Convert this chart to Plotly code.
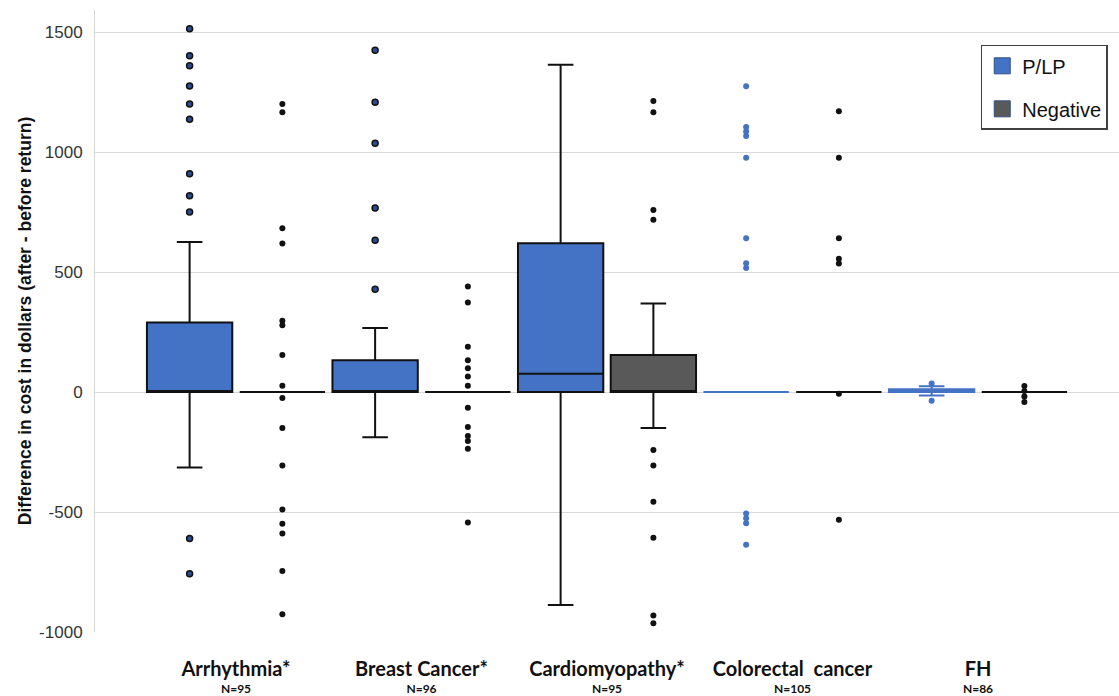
import plotly.graph_objects as go

categories = ["Arrhythmia", "Breast Cancer", "Cardiomyopathy", "Colorectal cancer", "FH"]
tick_names = ["Arrhythmia*", "Breast Cancer*", "Cardiomyopathy*", "Colorectal  cancer", "FH"]
n_counts = [95, 96, 95, 105, 86]

# P/LP statistics (per category)
plp_q1 = [0, 0, 0, 0, 0]
plp_median = [0, 0, 76, 0, 5]
plp_q3 = [290, 132, 620, 0, 12]
plp_lower = [-315, -188, -888, 0, -14]
plp_upper = [625, 267, 1364, 0, 24]
plp_outliers = [
    [1514, 1401, 1360, 1275, 1200, 1137, 910, 818, 750, -610, -757],
    [1424, 1208, 1037, 767, 633, 428],
    [],
    [1274, 1104, 1086, 1067, 976, 641, 537, 517, -506, -526, -547, -636],
    [36, -36],
]

# Negative statistics (per category)
neg_q1 = [0, 0, 0, 0, 0]
neg_median = [0, 0, 0, 0, 0]
neg_q3 = [0, 0, 154, 0, 0]
neg_lower = [0, 0, -150, 0, 0]
neg_upper = [0, 0, 369, 0, 0]
neg_outliers = [
    [1200, 1166, 683, 619, 297, 278, 154, 26, -25, -150, -306, -490, -549, -590, -746, -926],
    [440, 373, 189, 132, 99, 65, 26, -65, -146, -183, -204, -236, -544],
    [1213, 1166, 759, 718, -242, -306, -457, -607, -931, -964],
    [1170, 976, 641, 555, 536, -7, -532],
    [25, 4, -19, -42],
]

series_names = ["P/LP", "Negative"]

BLUE = "#4472C4"
GREY = "#595959"

fig = go.Figure()

def add_box(idx, group, fill, line_color, marker, q1, med, q3, lo, up, pts):
    fig.add_trace(go.Box(
        x=[categories[i] for i in idx],
        q1=[q1[i] for i in idx],
        median=[med[i] for i in idx],
        q3=[q3[i] for i in idx],
        lowerfence=[lo[i] for i in idx],
        upperfence=[up[i] for i in idx],
        y=[pts[i] for i in idx],
        boxpoints="all", jitter=0, pointpos=0,
        offsetgroup=group,
        showlegend=False,
        fillcolor=fill,
        line=dict(color=line_color, width=2),
        whiskerwidth=0.3,
        marker=marker,
        hoverinfo="skip",
    ))

add_box([0, 1, 2], "plp", BLUE, "#111111",
        dict(size=6, color="#2B4C90", line=dict(color="#111111", width=1.5)),
        plp_q1, plp_median, plp_q3, plp_lower, plp_upper, plp_outliers)
add_box([3, 4], "plp", BLUE, BLUE,
        dict(size=6, color=BLUE),
        plp_q1, plp_median, plp_q3, plp_lower, plp_upper, plp_outliers)
add_box([0, 1, 2, 3, 4], "neg", GREY, "#111111",
        dict(size=6, color="#111111"),
        neg_q1, neg_median, neg_q3, neg_lower, neg_upper, neg_outliers)

# legend swatches
for name, col, grp in [(series_names[0], BLUE, "g1"), (series_names[1], GREY, "g2")]:
    fig.add_trace(go.Scatter(
        x=[None], y=[None], mode="markers", name=name, legendgroup=grp,
        marker=dict(symbol="square", size=16, color=col, line=dict(color="#2F4F7F", width=1)),
        showlegend=True, hoverinfo="skip",
    ))

ticktext = [f"<span style='font-size:20px'><b>{t}</b></span><br><span style='font-size:12px'><b>N={n}</b></span>"
            for t, n in zip(tick_names, n_counts)]

fig.update_layout(
    width=1119, height=696,
    margin=dict(l=95, r=0, t=10, b=64),
    paper_bgcolor="white", plot_bgcolor="white",
    boxmode="group", boxgap=0, boxgroupgap=0.08,
    font=dict(family="Arial", color="#222222"),
    legend=dict(
        x=0.989, xanchor="right", y=0.944, yanchor="top",
        bordercolor="#404040", borderwidth=1.5,
        font=dict(family="Arial", size=20, color="#111111"),
        tracegroupgap=14, traceorder="grouped",
        itemsizing="trace",
    ),
    xaxis=dict(
        type="category", categoryorder="array", categoryarray=categories,
        range=[-0.76, 4.76],
        tickvals=categories, ticktext=ticktext,
        tickfont=dict(family="Lato", size=13, color="#111111"),
        showgrid=False, showline=False, zeroline=False,
        ticklabelstandoff=30, automargin=False,
    ),
    yaxis=dict(
        range=[-1000, 1592],
        tickvals=[-1000, -500, 0, 500, 1000, 1500],
        ticktext=["-1000", "-500", "0", "500", "1000", "1500"],
        tickfont=dict(family="Arial", size=17, color="#333333"),
        gridcolor="#d9d9d9", gridwidth=1,
        showline=True, linecolor="#d9d9d9", linewidth=1,
        zeroline=False, automargin=False,
        ticklabelstandoff=8,
        title=dict(text="<b>Difference in cost in dollars (after - before return)</b>",
                   font=dict(family="Arial", size=17.5, color="#111111"), standoff=2),
    ),
)

fig.write_html("out.html", config={"displayModeBar": False},
               post_script="document.body.style.margin='0';")
